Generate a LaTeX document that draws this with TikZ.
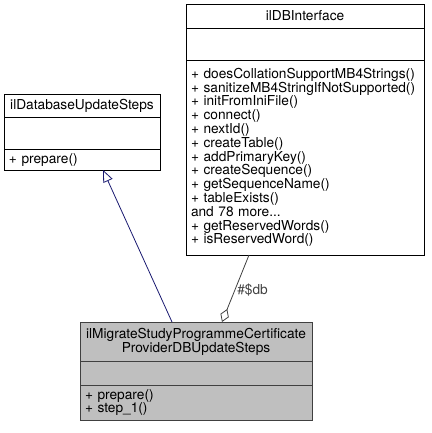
\documentclass[tikz,border=0pt]{standalone}
\usepackage{fontspec}
\setmainfont{TeX Gyre Heros}
\usetikzlibrary{positioning,arrows.meta}
\definecolor{edgeblue}{HTML}{191970}
\definecolor{edgegrey}{HTML}{404040}
\definecolor{boxgrey}{HTML}{BFBFBF}

\begin{document}
\begin{tikzpicture}[x=1pt, y=-1pt,
  cls/.style={draw=black, line width=0.9pt, outer sep=0pt, inner xsep=5pt, inner ysep=0pt,
              font=\fontsize{13.7}{13.8}\selectfont},
  head/.style={cls, align=center},
  body/.style={cls, align=left},
  cur/.style={fill=boxgrey, draw=edgegrey},
  inherit/.style={edgeblue, line width=0.8pt, -{Triangle[open, length=12pt, width=10pt]}},
  aggr/.style={edgegrey, line width=0.8pt, {Diamond[open, length=14pt, width=9pt]}-}]
\useasboundingbox (0,0) rectangle (431,433);
% base class
\node[head, minimum width=156pt, minimum height=23pt, anchor=north west] (a1) at (4,94) {ilDatabaseUpdateSteps};
\node[cls, minimum width=156pt, minimum height=32pt, below=0pt of a1] (a2) {};
\node[body, text width=146pt, minimum height=21pt, below=0pt of a2] (a3) {+ prepare()};
% database interface
\node[head, minimum width=238pt, minimum height=24pt, anchor=north west] (b1) at (186,4) {ilDBInterface};
\node[cls, minimum width=238pt, minimum height=32pt, below=0pt of b1] (b2) {};
\node[body, text width=228pt, minimum height=195pt, below=0pt of b2] (b3) {+ doesCollationSupportMB4Strings()\\
  + sanitizeMB4StringIfNotSupported()\\ + initFromIniFile()\\ + connect()\\ + nextId()\\
  + createTable()\\ + addPrimaryKey()\\ + createSequence()\\ + getSequenceName()\\
  + tableExists()\\ and 78 more...\\ + getReservedWords()\\ + isReservedWord()};
% this class
\node[head, cur, minimum width=232pt, minimum height=39pt, anchor=north west] (c1) at (80,322) {ilMigrateStudyProgrammeCertificate\\ProviderDBUpdateSteps};
\node[cls, cur, minimum width=232pt, minimum height=24pt, below=0pt of c1] (c2) {};
\node[body, cur, text width=222pt, minimum height=35pt, below=0pt of c2] (c3) {+ prepare()\\ + step\_1()};
\draw[inherit] ([xshift=-24pt]c1.north) -- ([xshift=21pt]a3.south);
\draw[aggr] ([xshift=26pt]c1.north) -- node[right, pos=0.48, inner sep=2pt, font=\fontsize{13.7}{13.8}\selectfont] (db) {\#\$db} ([xshift=-56pt]b3.south);
\end{tikzpicture}
\end{document}
